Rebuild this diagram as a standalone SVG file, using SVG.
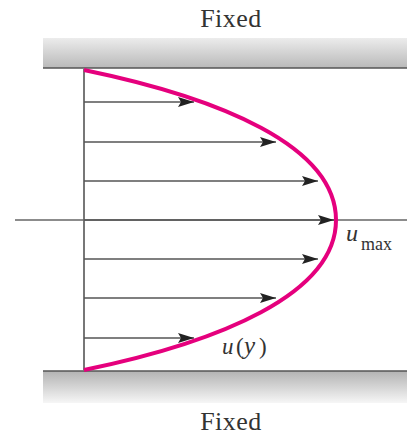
<svg xmlns="http://www.w3.org/2000/svg" width="407" height="435" viewBox="0 0 407 435">
<style>
.lbl{font-family:"Liberation Serif","Times New Roman",serif;fill:#333}
.vel{stroke:#555;stroke-width:1.5;fill:none;marker-end:url(#ah)}
</style>
<defs>
<linearGradient id="gTop" x1="0" y1="0" x2="0" y2="1">
<stop offset="0" stop-color="#ececec"/>
<stop offset="1" stop-color="#b9b9b9"/>
</linearGradient>
<linearGradient id="gBot" x1="0" y1="0" x2="0" y2="1">
<stop offset="0" stop-color="#b3b3b3"/>
<stop offset="1" stop-color="#f6f6f6"/>
</linearGradient>
<marker id="ah" viewBox="0 0 16 10" refX="16" refY="5" markerWidth="16" markerHeight="10" markerUnits="userSpaceOnUse" orient="auto">
<path d="M0,0 L16,5 L0,10 L3,5 Z" fill="#222"/>
</marker>
</defs>
<g id="top-plate">
<rect x="43" y="38" width="364" height="30" fill="url(#gTop)"/>
<line x1="43" y1="68" x2="407" y2="68" stroke="#555" stroke-width="1.5"/>
<text class="lbl" x="231" y="27" font-size="26" letter-spacing="0.5" text-anchor="middle">Fixed</text>
</g>
<g id="bottom-plate">
<rect x="43" y="371" width="364" height="32" fill="url(#gBot)"/>
<line x1="43" y1="371" x2="407" y2="371" stroke="#555" stroke-width="1.5"/>
<text class="lbl" x="231" y="430" font-size="26" letter-spacing="0.5" text-anchor="middle">Fixed</text>
</g>
<g id="connectors">
<line x1="84" y1="69" x2="84" y2="371" stroke="#777" stroke-width="2"/>
<line x1="15" y1="220" x2="407" y2="220" stroke="#666" stroke-width="1.5"/>
<line class="vel" x1="84" y1="102" x2="194" y2="102"/>
<line class="vel" x1="84" y1="142" x2="276" y2="142"/>
<line class="vel" x1="84" y1="181" x2="318" y2="181"/>
<line class="vel" x1="84" y1="220" x2="334" y2="220"/>
<line class="vel" x1="84" y1="259" x2="318" y2="259"/>
<line class="vel" x1="84" y1="298" x2="276" y2="298"/>
<line class="vel" x1="84" y1="338" x2="194" y2="338"/>
</g>
<g id="profile">
<path d="M84,70 C220,98 336,146 336,220 C336,294 220,342 84,370" fill="none" stroke="#e5007d" stroke-width="4"/>
</g>
<g id="label-umax">
<text class="lbl" x="346" y="241" font-size="24" font-style="italic">u</text>
<text class="lbl" x="361" y="250" font-size="18">max</text>
</g>
<g id="label-uy">
<text class="lbl" y="354" font-size="23"><tspan x="222" font-style="italic">u</tspan><tspan x="236">(</tspan><tspan x="244" font-style="italic" font-size="25">y</tspan><tspan x="259">)</tspan></text>
</g>
</svg>
